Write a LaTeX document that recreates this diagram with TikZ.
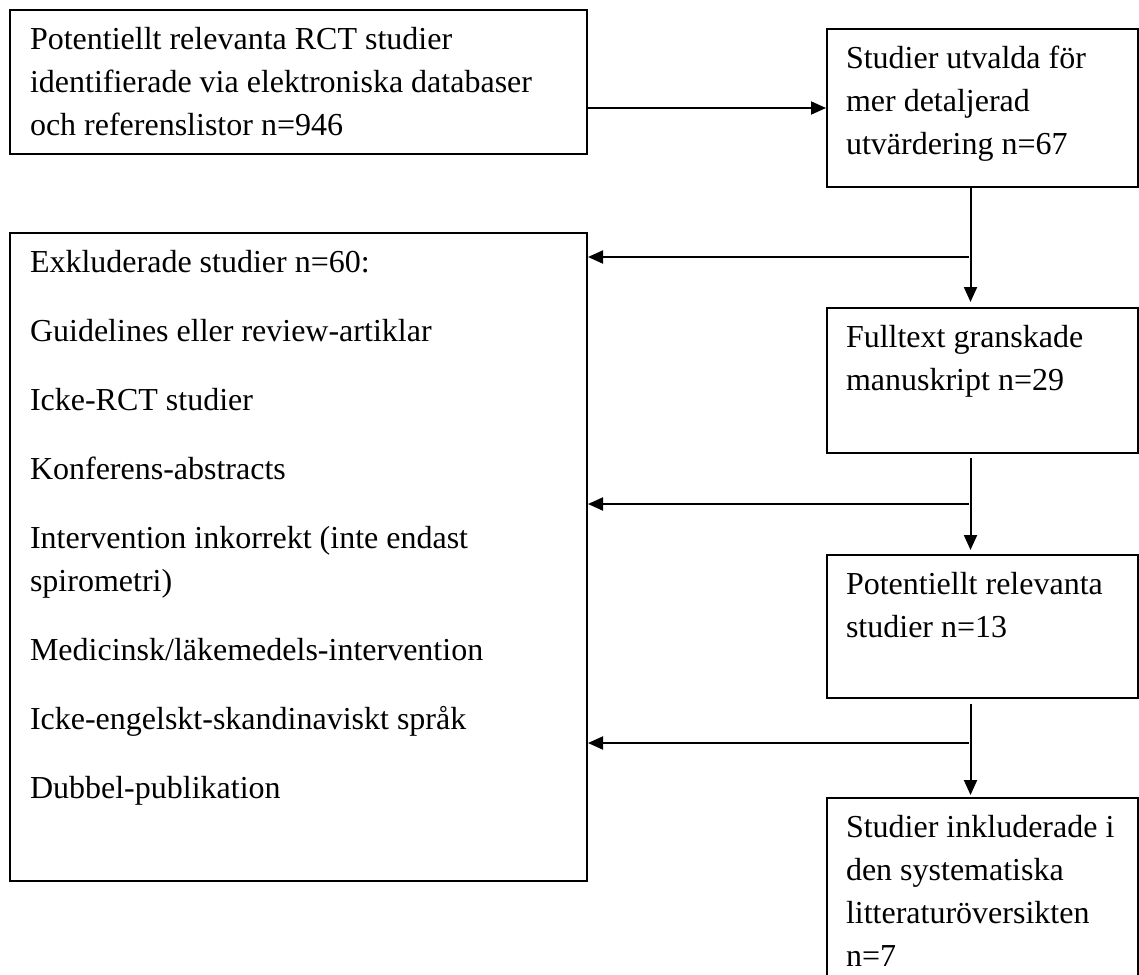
\documentclass[tikz,border=0pt]{standalone}
\usepackage{fontspec}
\setmainfont{Liberation Serif}
\usetikzlibrary{arrows.meta}

\begin{document}
\begin{tikzpicture}[x=1pt, y=-1pt, line width=2pt,
		font=\fontsize{32}{43}\selectfont,
		box/.style={draw, anchor=north west, align=flush left, inner ysep=10pt, text height=29.5pt},
		lbox/.style={box, inner xsep=20pt, text width=537pt},
		rbox/.style={box, inner xsep=19pt, text width=273pt},
		arr/.style={-{Triangle[length=15pt,width=13pt]}}]
		\useasboundingbox (0,0) rectangle (1139,974);
		\clip (0,0) rectangle (1139,974);
		\node[lbox, text depth=94.5pt] (Id) at (9,9) {Potentiellt relevanta RCT studier\\identifierade via elektroniska databaser\\och referenslistor n=946};
		\node[rbox, text depth=108.5pt] (Ut) at (826,28) {Studier utvalda för\\mer detaljerad\\utvärdering n=67};
		\node[lbox, text depth=598.5pt] (Ex) at (9,232) {Exkluderade studier n=60:\\[26pt]Guidelines eller review-artiklar\\[26pt]Icke-RCT studier\\[26pt]Konferens-abstracts\\[26pt]Intervention inkorrekt (inte endast\\spirometri)\\[26pt]Medicinsk/läkemedels-intervention\\[26pt]Icke-engelskt-skandinaviskt språk\\[26pt]Dubbel-publikation};
		\node[rbox, text depth=95.5pt] (Ft) at (826,307) {Fulltext granskade\\manuskript n=29};
		\node[rbox, text depth=93.5pt] (Pr) at (826,554) {Potentiellt relevanta\\studier n=13};
		\node[rbox, text depth=200pt] (In) at (826,797) {\mbox{Studier inkluderade i}\\den systematiska\\litteraturöversikten\\n=7};
		\coordinate (k1) at (969,257);
		\coordinate (k2) at (969,504);
		\coordinate (k3) at (969,743);
		\draw[arr] (Id.east |- Ut.west) to (Ut.west);
		\draw[arr, shorten >=5pt] ([xshift=-12pt]Ut.south) to ([xshift=-12pt]Ft.north);
		\draw[arr, shorten <=4pt, shorten >=4pt] ([xshift=-12pt]Ft.south) to ([xshift=-12pt]Pr.north);
		\draw[arr, shorten <=5pt, shorten >=2pt] ([xshift=-12pt]Pr.south) to ([xshift=-12pt]In.north);
		\draw[arr] (k1) to (Ex.east |- k1);
		\draw[arr] (k2) to (Ex.east |- k2);
		\draw[arr] (k3) to (Ex.east |- k3);
\end{tikzpicture}
\end{document}
